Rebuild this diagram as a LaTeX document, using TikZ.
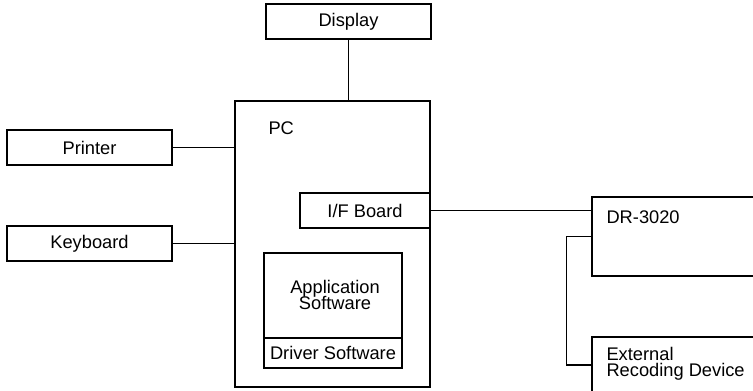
\documentclass[tikz,border=0pt]{standalone}
\usepackage{fontspec}
\setmainfont{Liberation Sans}
\usetikzlibrary{positioning}

\begin{document}
\begin{tikzpicture}[
    x=0.02cm,
    y=-0.02cm,
    line width=0.6pt,
    font=\fontsize{10.4}{11}\selectfont,
    unit/.style={draw, minimum height=35*0.02cm, inner sep=0pt},
    tag/.style={inner sep=0pt, anchor=west}
]

% page frame
\useasboundingbox (0,0) rectangle (753,390);
\clip (0,0) rectangle (753,390);

% PC and what sits inside it
\node[draw, minimum width=195*0.02cm, minimum height=286*0.02cm] (pc) at (332.5,244) {};
\node[tag] (pclabel) at (268,128) {PC};

\node[unit, minimum width=130*0.02cm] (ifboard) at (365,210.5) {I/F Board};

\node[draw, minimum width=138*0.02cm, minimum height=115*0.02cm] (appbox) at (333,310.5) {};
\node[align=center, inner sep=0pt] (applabel) at (335,295) {Application\\[-2pt]Software};
\node[draw, minimum width=138*0.02cm, minimum height=30*0.02cm, inner sep=0pt] (driver) at (333,353) {Driver Software};

% Peripherals
\node[unit, minimum width=165*0.02cm] (display) at (348.5,21.5) {Display};
\node[unit, minimum width=165*0.02cm] (printer) at (89.5,147.5) {Printer};
\node[unit, minimum width=165*0.02cm] (keyboard) at (89.5,243.5) {Keyboard};

% Recorder side (runs past the page edge)
\node[draw, minimum width=208*0.02cm, minimum height=79*0.02cm] (dr) at (696,236.5) {};
\node[tag] (drlabel) at (606,217) {DR-3020};

\node[draw, minimum width=208*0.02cm, minimum height=56*0.02cm] (ext) at (696,365) {};
\node[tag, align=left] (extlabel) at (606,364) {External\\[-2pt]Recoding Device};

% Connections
\draw (display.south) -- (display.south |- pc.north);
\draw (printer.east) -- (printer.east -| pc.west);
\draw (keyboard.east) -- (keyboard.east -| pc.west);
\draw (ifboard.east) -- (ifboard.east -| dr.west);
\draw (dr.west) -- ++(-25,0) |- (ext.west);

\end{tikzpicture}
\end{document}
